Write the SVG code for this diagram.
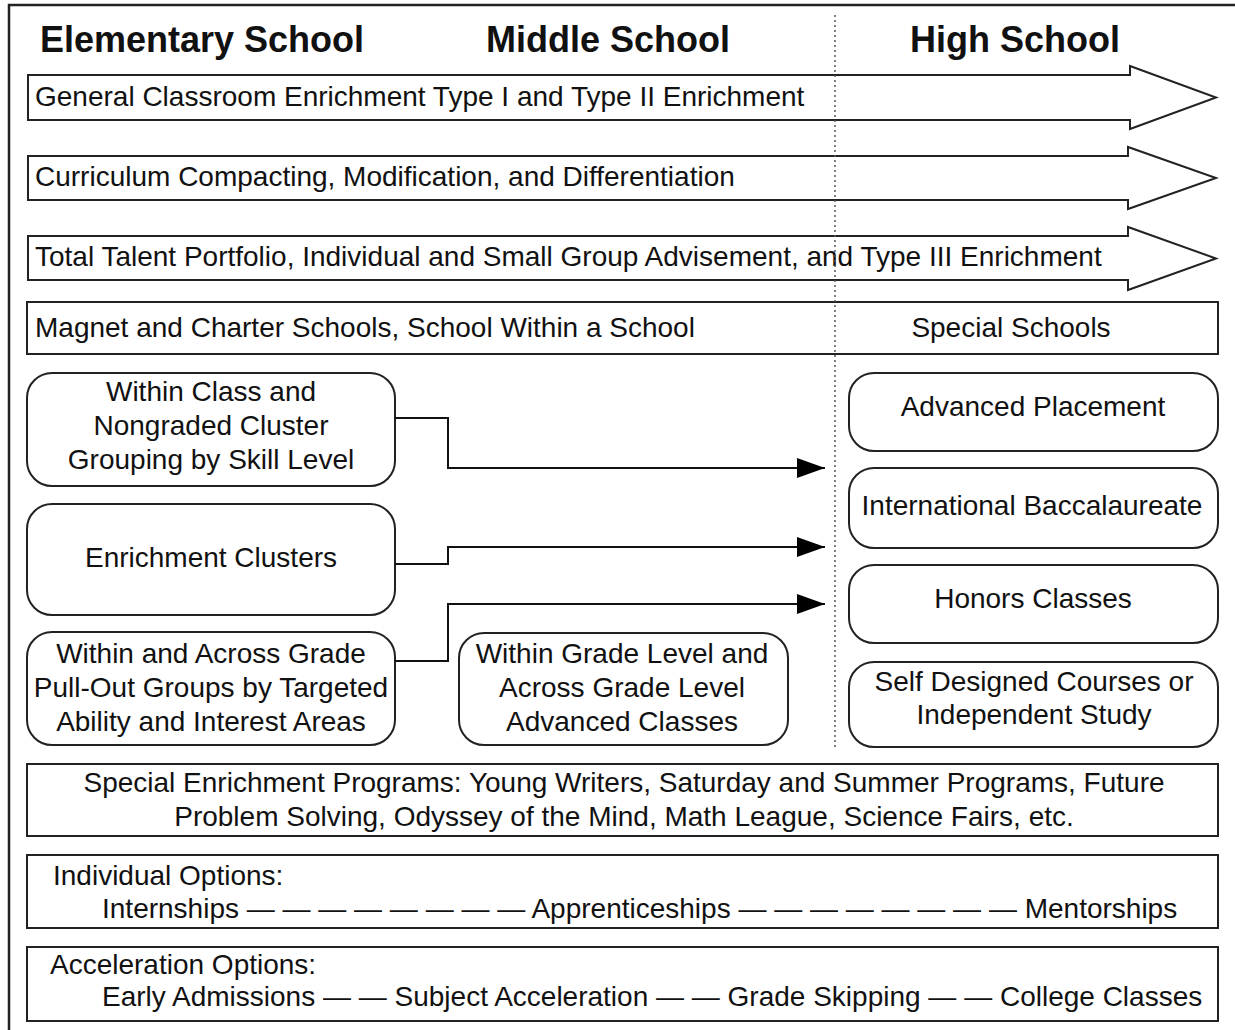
<svg xmlns="http://www.w3.org/2000/svg" width="1235" height="1030" viewBox="0 0 1235 1030">
<style>
text{font-family:"Liberation Sans",Arial,sans-serif;font-size:28px;fill:#111}
.h{font-weight:bold;font-size:36px;text-anchor:middle}
.c{text-anchor:middle}
.box{fill:#fff;stroke:#222;stroke-width:2}
.conn{fill:none;stroke:#111;stroke-width:2}
</style>
<defs>
<marker id="ah" markerWidth="28" markerHeight="20" refX="28" refY="10" orient="auto" markerUnits="userSpaceOnUse" viewBox="0 0 28 20">
<path d="M0,0 L28,10 L0,20 Z" fill="#000"/>
</marker>
</defs>
<rect x="0" y="0" width="1235" height="1030" fill="#fff"/>
<rect x="9" y="5" width="1240" height="1040" fill="none" stroke="#222" stroke-width="2.5"/>
<g id="headers">
<text class="h" x="202" y="52">Elementary School</text>
<text class="h" x="608" y="52">Middle School</text>
<text class="h" x="1015" y="52">High School</text>
</g>
<g id="arrow1">
<polygon class="box" points="28,75 1130,75 1130,66 1216,97.5 1130,129 1130,120 28,120"/>
<text x="35" y="106">General Classroom Enrichment Type I and Type II Enrichment</text>
</g>
<g id="arrow2">
<polygon class="box" points="28,156 1128,156 1128,147 1216,178 1128,209 1128,200 28,200"/>
<text x="35" y="186">Curriculum Compacting, Modification, and Differentiation</text>
</g>
<g id="arrow3">
<polygon class="box" points="28,236 1128,236 1128,227 1216,258.5 1128,290 1128,280 28,280"/>
<text x="35" y="266">Total Talent Portfolio, Individual and Small Group Advisement, and Type III Enrichment</text>
</g>
<g id="magnet">
<rect class="box" x="27" y="302" width="1191" height="52"/>
<text x="35" y="337">Magnet and Charter Schools, School Within a School</text>
<text class="c" x="1011" y="337">Special Schools</text>
</g>
<line x1="835" y1="15" x2="835" y2="750" stroke="#555" stroke-width="1.5" stroke-dasharray="2,3"/>
<g id="within-class">
<rect class="box" x="27" y="373" width="368" height="113" rx="25"/>
<text class="c" x="211" y="401">Within Class and</text>
<text class="c" x="211" y="435">Nongraded Cluster</text>
<text class="c" x="211" y="469">Grouping by Skill Level</text>
</g>
<g id="enrichment-clusters">
<rect class="box" x="27" y="504" width="368" height="111" rx="25"/>
<text class="c" x="211" y="567">Enrichment Clusters</text>
</g>
<g id="pull-out">
<rect class="box" x="27" y="632" width="368" height="113" rx="25"/>
<text class="c" x="211" y="663">Within and Across Grade</text>
<text class="c" x="211" y="697">Pull-Out Groups by Targeted</text>
<text class="c" x="211" y="731">Ability and Interest Areas</text>
</g>
<g id="advanced-classes">
<rect class="box" x="459" y="633" width="329" height="112" rx="25"/>
<text class="c" x="622" y="663">Within Grade Level and</text>
<text class="c" x="622" y="697">Across Grade Level</text>
<text class="c" x="622" y="731">Advanced Classes</text>
</g>
<g id="ap">
<rect class="box" x="849" y="373" width="369" height="78" rx="25"/>
<text class="c" x="1033" y="416">Advanced Placement</text>
</g>
<g id="ib">
<rect class="box" x="849" y="468" width="369" height="80" rx="25"/>
<text class="c" x="1032" y="515">International Baccalaureate</text>
</g>
<g id="honors">
<rect class="box" x="849" y="565" width="369" height="78" rx="25"/>
<text class="c" x="1033" y="608">Honors Classes</text>
</g>
<g id="self-designed">
<rect class="box" x="849" y="662" width="369" height="85" rx="25"/>
<text class="c" x="1034" y="691">Self Designed Courses or</text>
<text class="c" x="1034" y="724">Independent Study</text>
</g>
<g id="connectors">
<polyline class="conn" points="395,418 448,418 448,468 825,468" marker-end="url(#ah)"/>
<polyline class="conn" points="395,564 448,564 448,547 825,547" marker-end="url(#ah)"/>
<polyline class="conn" points="395,661 448,661 448,604 825,604" marker-end="url(#ah)"/>
</g>
<g id="special-enrichment">
<rect class="box" x="27" y="764" width="1191" height="72"/>
<text class="c" x="624" y="792">Special Enrichment Programs: Young Writers, Saturday and Summer Programs, Future</text>
<text class="c" x="624" y="826">Problem Solving, Odyssey of the Mind, Math League, Science Fairs, etc.</text>
</g>
<g id="individual">
<rect class="box" x="27" y="855" width="1191" height="73"/>
<text x="53" y="885">Individual Options:</text>
<text x="102" y="918">Internships — — — — — — — — Apprenticeships — — — — — — — — Mentorships</text>
</g>
<g id="acceleration">
<rect class="box" x="27" y="947" width="1191" height="74"/>
<text x="50" y="974">Acceleration Options:</text>
<text x="102" y="1006">Early Admissions — — Subject Acceleration — — Grade Skipping — — College Classes</text>
</g>
</svg>
